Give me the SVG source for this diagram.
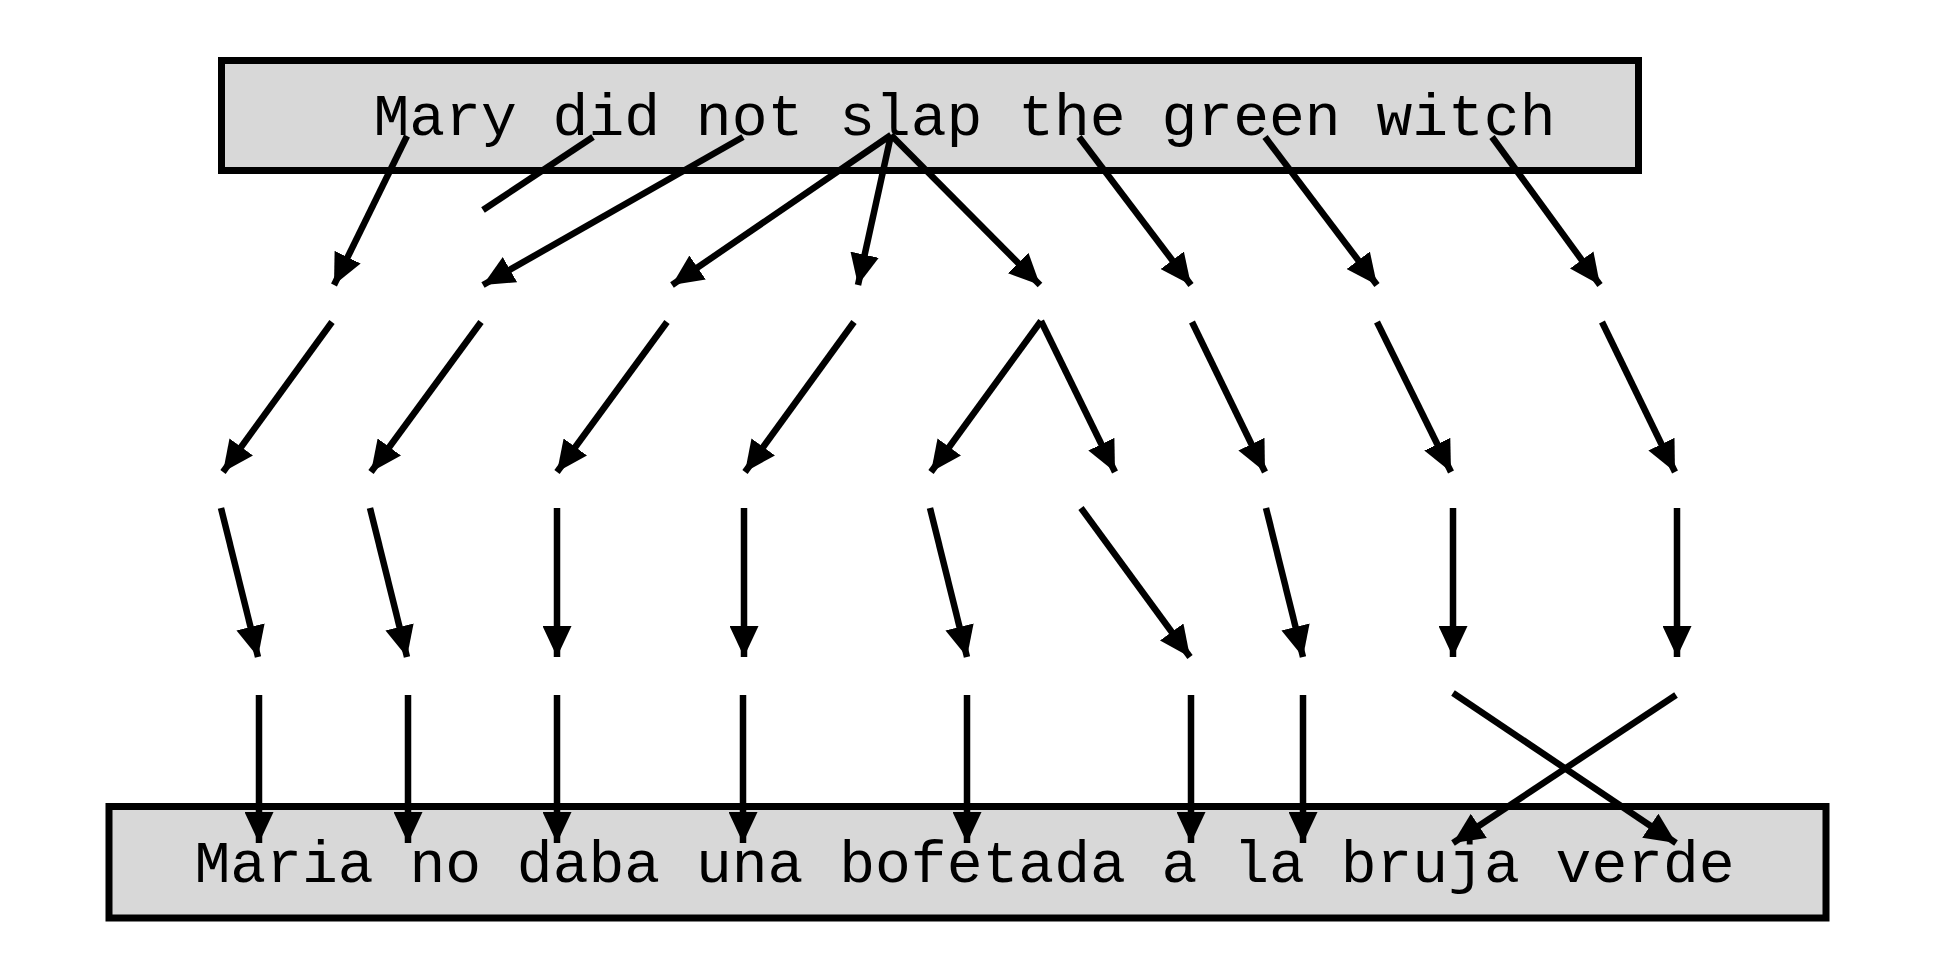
<svg xmlns="http://www.w3.org/2000/svg" width="1946" height="980" viewBox="0 0 1946 980">
<style>
.box{fill:#d8d8d8;stroke:#000;stroke-width:7}
.lbl{font-family:"Courier New","Liberation Mono",monospace;font-size:59.7px;fill:#000}
.e{stroke:#000;stroke-width:6.5;fill:none;stroke-linecap:butt}
.a{marker-end:url(#ah)}
</style>
<defs>
<marker id="ah" markerUnits="userSpaceOnUse" markerWidth="31" markerHeight="29" viewBox="0 0 31 29" refX="31" refY="14.5" orient="auto">
<path d="M0,0 L31,14.5 L0,29 z" fill="#000"/>
</marker>
</defs>
<rect width="1946" height="980" fill="#fff"/>
<g id="source">
<rect class="box" x="221.5" y="60.5" width="1417" height="110"/>
<text class="lbl" x="373.5" y="135">Mary did not slap the green witch</text>
</g>
<g id="target">
<rect class="box" x="109" y="806.5" width="1717" height="111.5"/>
<text class="lbl" x="194.5" y="882">Maria no daba una bofetada a la bruja verde</text>
</g>
<g id="connectors">
<line class="e a" x1="407" y1="136" x2="334" y2="285"/>
<line class="e" x1="593" y1="137" x2="483" y2="210"/>
<line class="e a" x1="743" y1="137" x2="483" y2="285"/>
<line class="e a" x1="891" y1="135" x2="672" y2="285"/>
<line class="e a" x1="891" y1="135" x2="858" y2="285"/>
<line class="e a" x1="891" y1="135" x2="1040" y2="285"/>
<line class="e a" x1="1079" y1="137" x2="1191" y2="285"/>
<line class="e a" x1="1265" y1="137" x2="1377" y2="285"/>
<line class="e a" x1="1492" y1="137" x2="1600" y2="285"/>

<line class="e a" x1="332" y1="322" x2="223" y2="472"/>
<line class="e a" x1="481" y1="322" x2="371" y2="472"/>
<line class="e a" x1="667" y1="322" x2="557" y2="472"/>
<line class="e a" x1="854" y1="322" x2="745" y2="472"/>
<line class="e a" x1="1041" y1="321" x2="931" y2="472"/>
<line class="e a" x1="1041" y1="321" x2="1115" y2="472"/>
<line class="e a" x1="1192" y1="322" x2="1265" y2="472"/>
<line class="e a" x1="1377" y1="322" x2="1451" y2="472"/>
<line class="e a" x1="1602" y1="322" x2="1675" y2="472"/>

<line class="e a" x1="221" y1="508" x2="258" y2="657"/>
<line class="e a" x1="370" y1="508" x2="407" y2="657"/>
<line class="e a" x1="557" y1="508" x2="557" y2="657"/>
<line class="e a" x1="744" y1="508" x2="744" y2="657"/>
<line class="e a" x1="930" y1="508" x2="967" y2="657"/>
<line class="e a" x1="1081" y1="508" x2="1190" y2="657"/>
<line class="e a" x1="1266" y1="508" x2="1303" y2="657"/>
<line class="e a" x1="1453" y1="508" x2="1453" y2="657"/>
<line class="e a" x1="1677" y1="508" x2="1677" y2="657"/>

<line class="e a" x1="259" y1="695" x2="259" y2="843"/>
<line class="e a" x1="408" y1="695" x2="408" y2="843"/>
<line class="e a" x1="557" y1="695" x2="557" y2="843"/>
<line class="e a" x1="743" y1="695" x2="743" y2="843"/>
<line class="e a" x1="967" y1="695" x2="967" y2="843"/>
<line class="e a" x1="1191" y1="695" x2="1191" y2="843"/>
<line class="e a" x1="1303" y1="695" x2="1303" y2="843"/>
<line class="e a" x1="1453" y1="693" x2="1676" y2="843"/>
<line class="e a" x1="1676" y1="695" x2="1453" y2="843"/>
</g>
</svg>
